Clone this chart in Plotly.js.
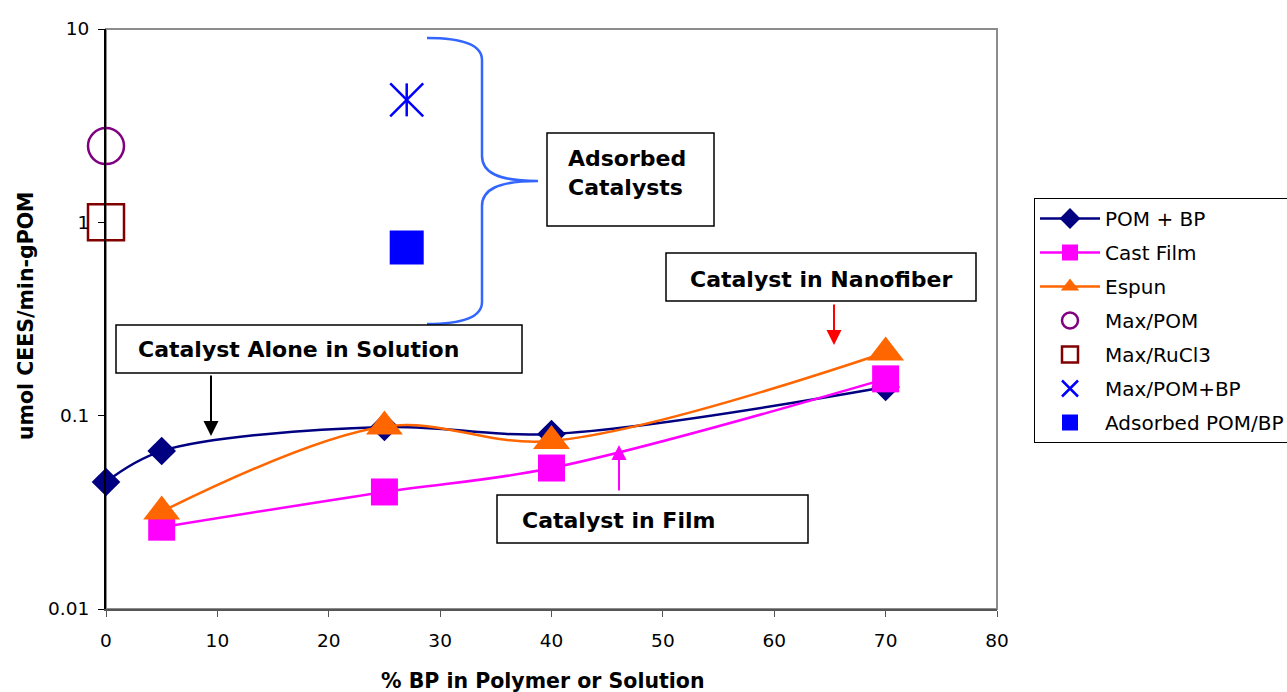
<!DOCTYPE html>
<html>
<head>
<meta charset="utf-8">
<script src="https://cdn.plot.ly/plotly-3.0.1.min.js"></script>
<style>html,body{margin:0;padding:0;background:#fff;}#chart{width:1287px;height:692px;}</style>
</head>
<body>
<div id="chart"></div>
<script>
// ---- data ----
const pomBpX = [0, 5, 25, 40, 70];
const pomBpY = [0.0454, 0.0656, 0.0873, 0.0804, 0.1407];
const castFilmX = [5, 25, 40, 70];
const castFilmY = [0.0265, 0.0403, 0.0536, 0.155];
const espunX = [5, 25, 40, 70];
const espunY = [0.0319, 0.0879, 0.0740, 0.2122];
const maxPomX = [0];
const maxPomY = [2.48];
const maxRuX = [0];
const maxRuY = [1.0];
const maxPomBpX = [27];
const maxPomBpY = [4.3];
const adsorbedX = [27];
const adsorbedY = [0.74];
const seriesNames = ['POM + BP', 'Cast Film', 'Espun', 'Max/POM', 'Max/RuCl3', 'Max/POM+BP', 'Adsorbed POM/BP'];
const yTickVals = [0.01, 0.1, 1, 10];
const yTickText = ['0.01', '0.1', '1', '10'];
const xTickVals = [0, 10, 20, 30, 40, 50, 60, 70, 80];
const xRange = [0, 80];
const yRangeLog = [-2, 1];

// ---- layout helpers (pixel -> paper) ----
const L = 106, T = 29, W = 891, H = 580;
const px = x => (x - L) / W;
const py = y => (T + H - y) / H;
const FONT = 'DejaVu Sans, Arial, sans-serif';

const traces = [
  {x: pomBpX, y: pomBpY, name: seriesNames[0], mode: 'lines+markers', legendgroup: 'g1',
   line: {color: '#000080', width: 2.5, shape: 'spline'},
   marker: {symbol: 'diamond', size: 22, color: '#000080'}, cliponaxis: false},
  {x: castFilmX, y: castFilmY, name: seriesNames[1], mode: 'lines+markers', legendgroup: 'g2',
   line: {color: '#FF00FF', width: 2.5, shape: 'spline'},
   marker: {symbol: 'square', size: 27, color: '#FF00FF'}, cliponaxis: false},
  {x: espunX, y: espunY, name: seriesNames[2], mode: 'lines+markers', legendgroup: 'g3',
   line: {color: '#FF6600', width: 2.5, shape: 'spline'},
   marker: {symbol: 'triangle-up', size: 32, color: '#FF6600'}, cliponaxis: false},
  {x: maxPomX, y: maxPomY, name: seriesNames[3], mode: 'markers', legendgroup: 'g4',
   marker: {symbol: 'circle-open', size: 36, color: '#800080', line: {width: 2.5, color: '#800080'}}, cliponaxis: false},
  {x: maxRuX, y: maxRuY, name: seriesNames[4], mode: 'markers', legendgroup: 'g5',
   marker: {symbol: 'square-open', size: 36, color: '#800000', line: {width: 2.5, color: '#800000'}}, cliponaxis: false},
  {x: maxPomBpX, y: maxPomBpY, name: seriesNames[5], mode: 'markers', legendgroup: 'g6',
   marker: {symbol: 'x-thin-open', size: 33, color: '#0000FF', line: {width: 2.5, color: '#0000FF'}}, cliponaxis: false},
  {x: adsorbedX, y: adsorbedY, name: seriesNames[6], mode: 'markers', legendgroup: 'g7',
   marker: {symbol: 'square', size: 34, color: '#0000FF'}, cliponaxis: false}
];

// brace path in paper coords
function P(x, y) { return px(x).toFixed(5) + ',' + py(y).toFixed(5); }
const bracePath = 'M' + P(427, 38) + ' C' + P(462, 38) + ' ' + P(482, 45) + ' ' + P(482, 60) +
  ' L' + P(482, 156) + ' C' + P(482, 172) + ' ' + P(497, 181) + ' ' + P(538, 181) +
  ' C' + P(497, 181) + ' ' + P(482, 190) + ' ' + P(482, 206) +
  ' L' + P(482, 302) + ' C' + P(482, 317) + ' ' + P(462, 324) + ' ' + P(427, 324);

function box(x0, y0, x1, y1) {
  return {type: 'rect', xref: 'paper', yref: 'paper', x0: px(x0), x1: px(x1), y0: py(y1), y1: py(y0),
          line: {color: '#000', width: 1.5}, fillcolor: '#fff', layer: 'above'};
}

// vertical stroke completing the asterisk marker (position derived from the data point)
const astX = (maxPomBpX[0] - xRange[0]) / (xRange[1] - xRange[0]);
const astY = (Math.log10(maxPomBpY[0]) - yRangeLog[0]) / (yRangeLog[1] - yRangeLog[0]);
const astHalf = 16.5 / H;

const shapes = [
  {type: 'rect', xref: 'paper', yref: 'paper', x0: 0, x1: 1, y0: 0, y1: 1,
   line: {color: '#8c8c8c', width: 2}, layer: 'below'},
  {type: 'path', xref: 'paper', yref: 'paper', path: bracePath, line: {color: '#3366FF', width: 2.5}, layer: 'above'},
  {type: 'path', xref: 'paper', yref: 'paper',
   path: 'M' + astX.toFixed(5) + ',' + (astY - astHalf).toFixed(5) + ' L' + astX.toFixed(5) + ',' + (astY + astHalf).toFixed(5),
   line: {color: '#0000FF', width: 2.5}, layer: 'above'},
  box(547, 133, 714, 226),
  box(116, 325, 522, 373),
  box(666, 253, 976, 301),
  box(497, 495, 808, 543)
];

function label(text, x, y, xanchor, align) {
  return {text: text, xref: 'paper', yref: 'paper', x: px(x), y: py(y), xanchor: xanchor || 'center', yanchor: 'middle',
          showarrow: false, align: align || 'center', font: {family: FONT, size: 22, color: '#000'}};
}
function arrow(x, y, ay, color) {
  return {text: '', xref: 'paper', yref: 'paper', x: px(x), y: py(y), ax: 0, ay: ay, showarrow: true,
          arrowhead: 2, arrowsize: 1.5, arrowwidth: 2, arrowcolor: color, standoff: 0};
}

const annotations = [
  label('<b>Adsorbed</b><br><b>Catalysts</b>', 566, 173, 'left', 'left'),
  label('<b>Catalyst Alone in Solution</b>', 136, 350, 'left', 'left'),
  label('<b>Catalyst in Nanofiber</b>', 821, 279),
  label('<b>Catalyst in Film</b>', 618, 520),
  arrow(211, 436, -62, '#000000'),
  arrow(834, 345, -42, '#FF0000'),
  arrow(619, 445, 47, '#FF00FF'),
  {text: '<b>% BP in Polymer or Solution</b>', xref: 'paper', yref: 'paper', x: px(543), y: py(681),
   xanchor: 'center', yanchor: 'middle', showarrow: false, font: {family: FONT, size: 20.5, color: '#000'}},
  {text: '<b>umol CEES/min-gPOM</b>', xref: 'paper', yref: 'paper', x: px(26), y: py(316),
   xanchor: 'center', yanchor: 'middle', showarrow: false, textangle: -90, font: {family: FONT, size: 20.5, color: '#000'}}
];

const layout = {
  width: 1287, height: 692,
  margin: {l: L, r: 1287 - L - W, t: T, b: 692 - T - H, autoexpand: false},
  paper_bgcolor: '#fff', plot_bgcolor: '#fff',
  font: {family: FONT, color: '#000'},
  showlegend: true,
  legend: {x: px(1034), y: py(198), xanchor: 'left', yanchor: 'top', bgcolor: '#fff',
           bordercolor: '#000', borderwidth: 1, font: {family: FONT, size: 20, color: '#000'},
           tracegroupgap: 5, traceorder: 'grouped', itemwidth: 60},
  xaxis: {range: xRange, tickvals: xTickVals, ticks: 'outside', ticklen: 6, tickcolor: '#555', tickwidth: 1,
          showline: true, linecolor: '#555', linewidth: 2, showgrid: false, zeroline: false,
          ticklabelstandoff: 8,
          tickfont: {family: FONT, size: 18.5, color: '#000'}, fixedrange: true},
  yaxis: {type: 'log', range: yRangeLog, tickvals: yTickVals, ticktext: yTickText, ticks: 'outside', ticklen: 6,
          tickcolor: '#000', tickwidth: 1, showline: true, linecolor: '#000', linewidth: 2, showgrid: false,
          ticklabelstandoff: 5,
          zeroline: false, tickfont: {family: FONT, size: 18.5, color: '#000'}, fixedrange: true},
  shapes: shapes,
  annotations: annotations
};

Plotly.newPlot('chart', traces, layout, {displayModeBar: false, staticPlot: true});
</script>
</body>
</html>
